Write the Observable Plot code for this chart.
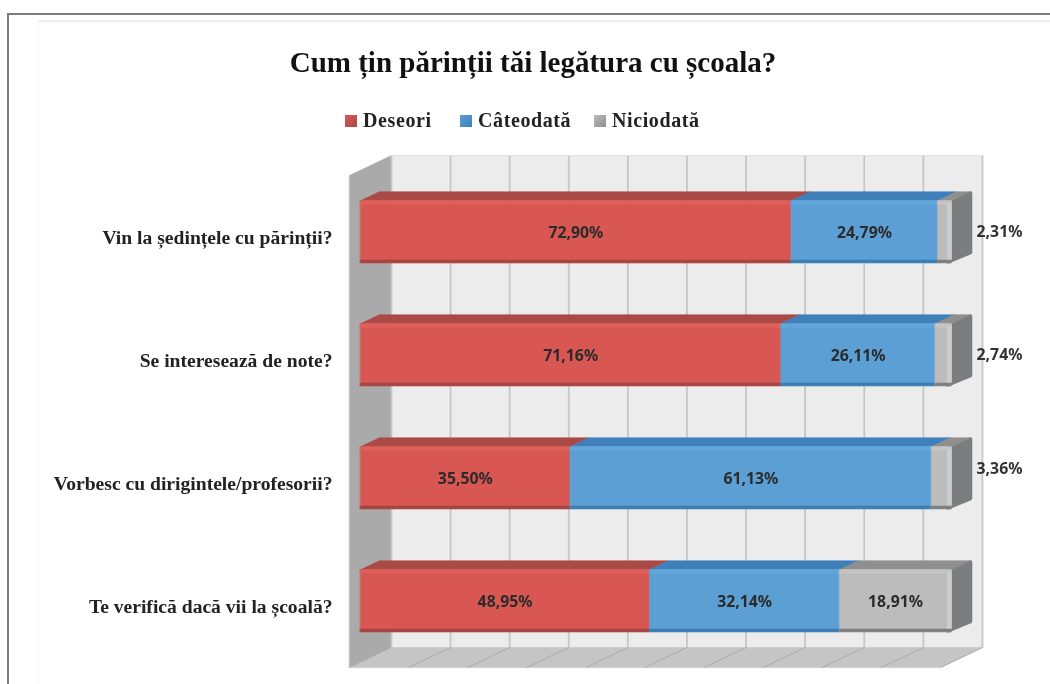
<!DOCTYPE html>
<html lang="ro">
<head>
<meta charset="utf-8">
<script src="https://cdn.jsdelivr.net/npm/d3@7"></script>
<script src="https://cdn.jsdelivr.net/npm/@observablehq/plot@0.6"></script>
<style>
html,body{margin:0;padding:0;background:#fff;width:1050px;height:684px;overflow:hidden}
#page{position:relative;width:1050px;height:684px;filter:blur(.55px)}
#frame{position:absolute;left:7px;top:13px;width:1050px;height:700px;border:2px solid #7c7c7c;box-sizing:border-box}
#inner{position:absolute;left:38px;top:20px;width:1020px;height:700px;border-top:2px solid #eee;border-left:1px solid #f8f8f8;box-sizing:border-box}
#title{position:absolute;left:0;top:44px;width:1066px;text-align:center;font:bold 29px/36px "Liberation Serif",serif;color:#111}
.lg{position:absolute;top:108px;font:bold 20px/24px "Liberation Serif",serif;color:#222;letter-spacing:.6px;white-space:nowrap}
.lg i{position:absolute;left:-18px;top:7px;width:12px;height:12px}
#chart{position:absolute;left:0;top:140px}
#chart svg{display:block;background:transparent}
</style>
</head>
<body>
<div id="page">
<div id="frame"></div>
<div id="inner"></div>
<div id="title">Cum țin părinții tăi legătura cu școala?</div>
<div id="legend"></div>
<div id="chart"></div>
</div>
<script>
const categories = ["Vin la ședințele cu părinții?", "Se interesează de note?", "Vorbesc cu dirigintele/profesorii?", "Te verifică dacă vii la școală?"];
const seriesNames = ["Deseori", "Câteodată", "Niciodată"];
const deseori = [72.90, 71.16, 35.50, 48.95];
const cateodata = [24.79, 26.11, 61.13, 32.14];
const niciodata = [2.31, 2.74, 3.36, 18.91];
const gridTicks = [0, 10, 20, 30, 40, 50, 60, 70, 80, 90, 100];

const front = ["#d95753", "#5c9fd4", "#bcbcbc"];
const topFace = ["#aa4a47", "#3f80ba", "#8f8f8f"];
const shine = ["#df5f5b", "#63a6da", "#c4c4c4"];
const under = ["#a34542", "#3d7cb2", "#7d7d7d"];

const series = [deseori, cateodata, niciodata];

// Oblique depth: z = 0 is the front edge of the floor, z = 1 the back wall.
const depthX = 7.1, depthY = -0.1626, barZ0 = 0.26, barZ1 = 0.71, halfBar = 0.252;
const px = (pct, z) => pct + z * depthX;
const py = (row, z) => row + z * depthY;

let fid = 0;
function face(list, points, color) {
  const id = fid++;
  for (const [x, y] of points) list.push({id, x, y, color});
}
const wallFaces = [], backFaces = [], floorFaces = [], capFaces = [], faces = [];
face(wallFaces, [[px(0,0),py(0,0)],[px(0,1),py(0,1)],[px(0,1),py(4,1)],[px(0,0),py(4,0)]], "#aaaaaa");
face(backFaces, [[px(0,1),py(0,1)],[px(100,1),py(0,1)],[px(100,1),py(4,1)],[px(0,1),py(4,1)]], "#ececec");
face(floorFaces, [[px(0,0),py(4,0)],[px(0,1),py(4,1)],[px(100,1),py(4,1)],[px(100,0),py(4,0)]], "#c5c5c5");

const labels = [];
categories.forEach((cat, r) => {
  const c = r + 0.5;
  const yTop = py(c - halfBar, barZ0), yBot = py(c + halfBar, barZ0);
  const yBackTop = py(c - halfBar, barZ1), yBackBot = py(c + halfBar, barZ1);
  // rounded end of the bar, drawn first so that the faces overlap it
  face(capFaces, [[px(99.4,barZ0),yTop+0.01],[px(100,barZ1),yBackTop+0.012],[px(100,barZ1),yBackBot-0.012],[px(99.4,barZ0),yBot-0.01]], "#7b7e7e");
  let s = 0;
  series.forEach((vals, k) => {
    const v = vals[r];
    const a = s, b = Math.min(100, s + v);
    s = b;
    face(faces, [[px(a,barZ0),yTop],[px(a,barZ1),yBackTop],[px(b,barZ1),yBackTop],[px(b,barZ0),yTop]], topFace[k]);
    face(faces, [[px(a,barZ0),yTop],[px(b,barZ0),yTop],[px(b,barZ0),yBot],[px(a,barZ0),yBot]], front[k]);
    face(faces, [[px(a,barZ0),yTop],[px(b,barZ0),yTop],[px(b,barZ0),yTop+0.03],[px(a,barZ0),yTop+0.03]], shine[k]);
    face(faces, [[px(a,barZ0),yBot-0.022],[px(b,barZ0),yBot-0.022],[px(b,barZ0),yBot],[px(a,barZ0),yBot]], under[k]);
    const inside = v > 5;
    labels.push({
      text: v.toFixed(2).replace(".", ",") + "%",
      x: inside ? px(a + v / 2, barZ0) : 100,
      y: inside ? (yTop + yBot) / 2 : (r === 2 ? py(c, barZ0) - 0.07 : py(c, barZ0)),
      inside
    });
  });
  face(faces, [[px(99.3,barZ0),yTop+0.02],[px(100,barZ0),yTop+0.02],[px(100,barZ0),yBot-0.03],[px(99.3,barZ0),yBot-0.03]], "#cdcdcd");
});

const sans = '"Noto Sans",sans-serif';
const shapeMark = (data, w = 0.6) => Plot.line(data, {x: "x", y: "y", z: "id", fill: "color", stroke: "color", strokeWidth: w, strokeLinejoin: "round", curve: "linear-closed"});

const plot = Plot.plot({
  width: 1050,
  height: 544,
  marginTop: 35,
  marginBottom: 17,
  marginLeft: 349,
  marginRight: 110,
  x: {domain: [0, 100], axis: null},
  y: {domain: [4, 0], axis: null},
  color: {type: "identity"},
  style: {background: "transparent", overflow: "visible"},
  marks: [
    shapeMark(backFaces),
    shapeMark(floorFaces),
    shapeMark(wallFaces),
    Plot.link(gridTicks, {x1: d => px(d, 1), x2: d => px(d, 1), y1: () => py(0, 1), y2: () => py(4, 1), stroke: "#c6c6c6", strokeWidth: 1.8}),
    Plot.link(gridTicks.slice(1), {x1: d => px(d, 1), x2: d => px(d, 0), y1: () => py(4, 1), y2: () => py(4, 0), stroke: "#acacac", strokeWidth: 1}),
    Plot.link([0], {x1: () => px(0, 1), x2: () => px(100, 1), y1: () => py(0, 1), y2: () => py(0, 1), stroke: "#e3e3e3", strokeWidth: 1}),
    shapeMark(capFaces, 4),
    shapeMark(faces),
    Plot.axisY({
      ticks: [0.5, 1.5, 2.5, 3.5],
      tickFormat: d => categories[d - 0.5],
      tickSize: 0,
      tickPadding: 17,
      label: null,
      dy: 1,
      fontFamily: '"Liberation Serif",serif',
      fontWeight: "bold",
      fontSize: 19.6,
      fill: "#222"
    }),
    Plot.text(labels.filter(d => d.inside), {x: "x", y: "y", text: "text", dy: 1, fontFamily: sans, fontWeight: "bold", fontSize: 15.8, fill: "#2b2b2b"}),
    Plot.text(labels.filter(d => !d.inside), {x: "x", y: "y", text: "text", dx: 59, fontFamily: sans, fontWeight: "bold", fontSize: 15.8, fill: "#333"})
  ]
});
document.getElementById("chart").appendChild(plot);

const legend = document.getElementById("legend");
const legendLeft = [363, 478, 612];
seriesNames.forEach((name, i) => {
  const el = document.createElement("div");
  el.className = "lg";
  el.style.left = legendLeft[i] + "px";
  const sw = document.createElement("i");
  sw.style.background = `linear-gradient(135deg, ${front[i]}, ${topFace[i]})`;
  el.appendChild(sw);
  el.appendChild(document.createTextNode(name));
  legend.appendChild(el);
});
</script>
</body>
</html>
